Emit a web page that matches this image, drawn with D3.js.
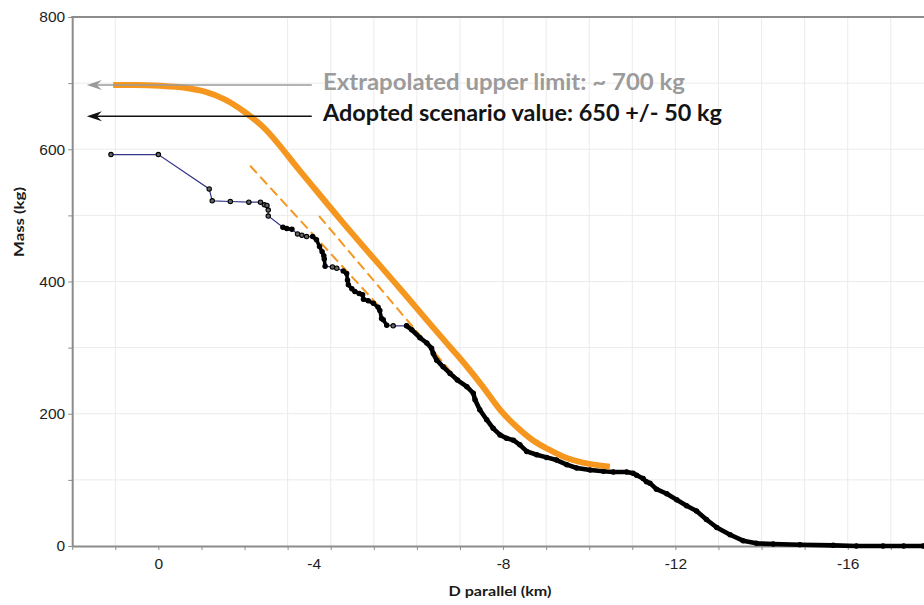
<!DOCTYPE html>
<html>
<head>
<meta charset="utf-8">
<script src="https://cdn.jsdelivr.net/npm/d3@7"></script>
<style>
  html, body { margin: 0; padding: 0; background: #fff; }
  svg { display: block; }
</style>
</head>
<body>
<svg id="chart" width="924" height="605"></svg>
<script>
// ---------------- DATA ----------------
// Along-track distance D parallel (km) and mass (kg)
const massPoints = [
  [1.10,592],[0.00,592],[-1.18,540],[-1.25,522],[-1.67,521],[-2.10,520],[-2.37,520],
  [-2.46,516],[-2.52,515],[-2.55,508],[-2.55,499],[-2.89,482],[-2.98,480],[-3.10,479],
  [-3.23,472],[-3.33,470],[-3.44,468],[-3.58,468],[-3.67,463],[-3.74,453],[-3.80,445],
  [-3.84,439],[-3.85,434],[-3.87,423],[-4.04,422],[-4.14,420],[-4.29,416],[-4.37,412],
  [-4.39,402],[-4.41,395],[-4.49,389],[-4.56,385],[-4.66,382],[-4.74,380],[-4.76,373],
  [-4.87,371],[-4.99,367],[-5.10,361],[-5.14,356],[-5.18,344],[-5.22,342],[-5.30,334],
  [-5.45,333],[-5.76,333],[-5.88,327],[-6.07,315],[-6.23,307],[-6.34,299],[-6.38,291],
  [-6.46,281],[-6.61,271],[-6.77,261],[-6.94,251],[-7.16,241],[-7.31,231],[-7.35,221],
  [-7.46,206],[-7.62,191],[-7.77,178],[-7.93,168],[-8.08,163],[-8.24,160],[-8.39,153],
  [-8.55,143],[-8.78,138],[-9.01,134],[-9.24,130],[-9.48,123],[-9.71,118],[-10.02,115],
  [-10.33,113],[-10.56,112],[-10.87,112],[-11.02,110],[-11.10,107],[-11.25,102],[-11.33,97],
  [-11.41,95],[-11.56,86],[-11.80,79],[-12.03,70],[-12.26,61],[-12.49,53],[-12.72,40],
  [-12.96,28],[-13.27,17],[-13.57,8],[-13.88,4],[-14.27,3],[-14.89,2],[-15.66,1],
  [-16.20,0],[-16.82,0],[-17.30,0],[-17.75,0]
];
// index ranges of massPoints where markers are so dense they merge into a solid trace
const denseRuns = [[11,13],[17,23],[26,41],[43,96]];

// Fitted (extrapolated) mass curve
const fitCurve = [
  [1.05,697],[0.54,697],[-0.04,696],[-0.62,693],[-1.08,687],[-1.55,675],[-2.01,656],
  [-2.41,635],[-3.29,567],[-4.22,494],[-5.61,389],[-6.77,301],[-7.00,284],[-7.53,241],
  [-7.93,206],[-8.32,180],[-8.69,160],[-9.09,145],[-9.48,133],[-9.85,126],[-10.48,120]
];
// Dashed guide lines
const dashLow  = [[-2.13,575],[-5.10,364]];
const dashHigh = [[-3.73,499],[-6.95,251]];

// Annotations
const upperLimit = 697, upperLabel = "Extrapolated upper limit: ~ 700 kg";
const adopted = 650,    adoptedLabel = "Adopted scenario value: 650 +/- 50 kg";
const arrowFromD = -3.56, arrowToD = 1.66, labelD = -3.82;

// Axes
const xDomain = [2, -17.77];
const yDomain = [0, 800];
const xTickValues = d3.range(2, -18, -1);
const xLabelValues = [0, -4, -8, -12, -16];
const xGridValues = [1, -3, -4, -5, -6, -7, -8, -9, -10, -11, -12, -13, -14, -15, -16, -17];
const yTickValues = d3.range(0, 801, 100);
const yLabelValues = [0, 200, 400, 600, 800];
const yGridValues = [100, 200, 300, 400, 500, 600, 700];
const xTitle = "D parallel (km)";
const yTitle = "Mass (kg)";

// ---------------- DRAW ----------------
const svg = d3.select("#chart");
const L = 72.2, R = 924, T = 17, B = 546;
const x = d3.scaleLinear().domain(xDomain).range([L, R]);
const y = d3.scaleLinear().domain(yDomain).range([B, T]);

const axisColor = "#8c8c8c";
const gridColor = "#ebebeb";
const orange = "#f5961f";

// grid
const grid = svg.append("g");
grid.selectAll("line.v").data(xGridValues).join("line")
  .attr("x1", d => x(d)).attr("x2", d => x(d)).attr("y1", T).attr("y2", B)
  .attr("stroke", gridColor).attr("stroke-width", 1);
grid.selectAll("line.h").data(yGridValues).join("line")
  .attr("x1", L).attr("x2", R).attr("y1", d => y(d)).attr("y2", d => y(d))
  .attr("stroke", gridColor).attr("stroke-width", 1);

// axes
const xAxis = d3.axisBottom(x).tickValues(xTickValues).tickSize(4).tickSizeOuter(0)
  .tickPadding(8)
  .tickFormat(d => xLabelValues.includes(d) ? String(d) : "");
const yAxis = d3.axisLeft(y).tickValues(yTickValues).tickSize(4).tickSizeOuter(0)
  .tickPadding(3)
  .tickFormat(d => yLabelValues.includes(d) ? String(d) : "");

const gx = svg.append("g").attr("transform", `translate(0,${B})`).call(xAxis);
const gy = svg.append("g").attr("transform", `translate(${L},0)`).call(yAxis);
[gx, gy].forEach(g => {
  g.select(".domain").attr("stroke", axisColor).attr("stroke-width", 2);
  g.selectAll(".tick line").attr("stroke", axisColor).attr("stroke-width", 1);
  g.selectAll(".tick text").attr("fill", "#1e1e1e")
    .style("font-family", "'Liberation Sans', Arial, Helvetica, sans-serif")
    .style("font-size", "15.5px");
});
// the "-4" label sits slightly left of its tick in the reference
gx.selectAll(".tick").filter(d => d === -4).select("text").attr("dx", -17);

// top frame line
svg.append("line").attr("x1", L - 1).attr("x2", R).attr("y1", T).attr("y2", T)
  .attr("stroke", axisColor).attr("stroke-width", 2);

// axis titles
svg.append("text").text(xTitle)
  .attr("x", 500).attr("y", 596).attr("text-anchor", "middle")
  .attr("textLength", 103).attr("lengthAdjust", "spacingAndGlyphs")
  .style("font-family", "Lato, 'Open Sans', sans-serif").style("font-weight", 700)
  .style("font-size", "14px").attr("fill", "#1a1a1a");
svg.append("text").text(yTitle)
  .attr("transform", "translate(24,222) rotate(-90)").attr("text-anchor", "middle")
  .attr("textLength", 70).attr("lengthAdjust", "spacingAndGlyphs")
  .style("font-family", "Lato, 'Open Sans', sans-serif").style("font-weight", 700)
  .style("font-size", "14px").attr("fill", "#1a1a1a");

// dashed guides
const line = d3.line().x(d => x(d[0])).y(d => y(d[1]));
[dashLow, dashHigh].forEach(seg => {
  svg.append("path").attr("d", line(seg)).attr("fill", "none")
    .attr("stroke", orange).attr("stroke-width", 2).attr("stroke-dasharray", "10,5");
});

// measured series: thin connecting line
svg.append("path").attr("d", line(massPoints)).attr("fill", "none")
  .attr("stroke", "#34348a").attr("stroke-width", 1.2);
// dense runs
const inDense = i => denseRuns.some(([a, b]) => i >= a && i <= b);
denseRuns.forEach(([a, b]) => {
  svg.append("path").attr("d", line(massPoints.slice(a, b + 1))).attr("fill", "none")
    .attr("stroke", "#000").attr("stroke-width", b - a > 40 ? 4.6 : 3.6)
    .attr("stroke-linejoin", "round").attr("stroke-linecap", "round");
});
// markers
svg.append("g").selectAll("circle").data(massPoints).join("circle")
  .attr("cx", d => x(d[0])).attr("cy", d => y(d[1])).attr("r", 2.2)
  .attr("fill", (d, i) => inDense(i) ? "#000" : "#666")
  .attr("stroke", "#000").attr("stroke-width", 1.1);

// fitted curve
svg.append("path").attr("d", line.curve(d3.curveMonotoneX)(fitCurve)).attr("fill", "none")
  .attr("stroke", orange).attr("stroke-width", 6).attr("stroke-linejoin", "round");
line.curve(d3.curveLinear);

// annotation arrows
function arrow(val, color) {
  const yy = y(val);
  svg.append("line").attr("x1", x(arrowFromD)).attr("x2", x(arrowToD) + 8)
    .attr("y1", yy).attr("y2", yy).attr("stroke", color).attr("stroke-width", 1.5);
  const tx = x(arrowToD);
  svg.append("path")
    .attr("d", `M${tx},${yy} L${tx + 15},${yy - 5} L${tx + 10},${yy} L${tx + 15},${yy + 5} Z`)
    .attr("fill", color);
}
arrow(upperLimit, "#9a9a9a");
arrow(adopted, "#111");

svg.append("text").text(upperLabel)
  .attr("x", x(labelD)).attr("y", y(upperLimit) + 5)
  .attr("textLength", 362).attr("lengthAdjust", "spacingAndGlyphs")
  .style("font-family", "Lato, 'Open Sans', sans-serif").style("font-weight", 700)
  .style("font-size", "22px").attr("fill", "#9b9b9b");
svg.append("text").text(adoptedLabel)
  .attr("x", x(labelD)).attr("y", y(adopted) + 5)
  .attr("textLength", 399).attr("lengthAdjust", "spacingAndGlyphs")
  .style("font-family", "Lato, 'Open Sans', sans-serif").style("font-weight", 700)
  .style("font-size", "22px").attr("fill", "#141414");
</script>
</body>
</html>
